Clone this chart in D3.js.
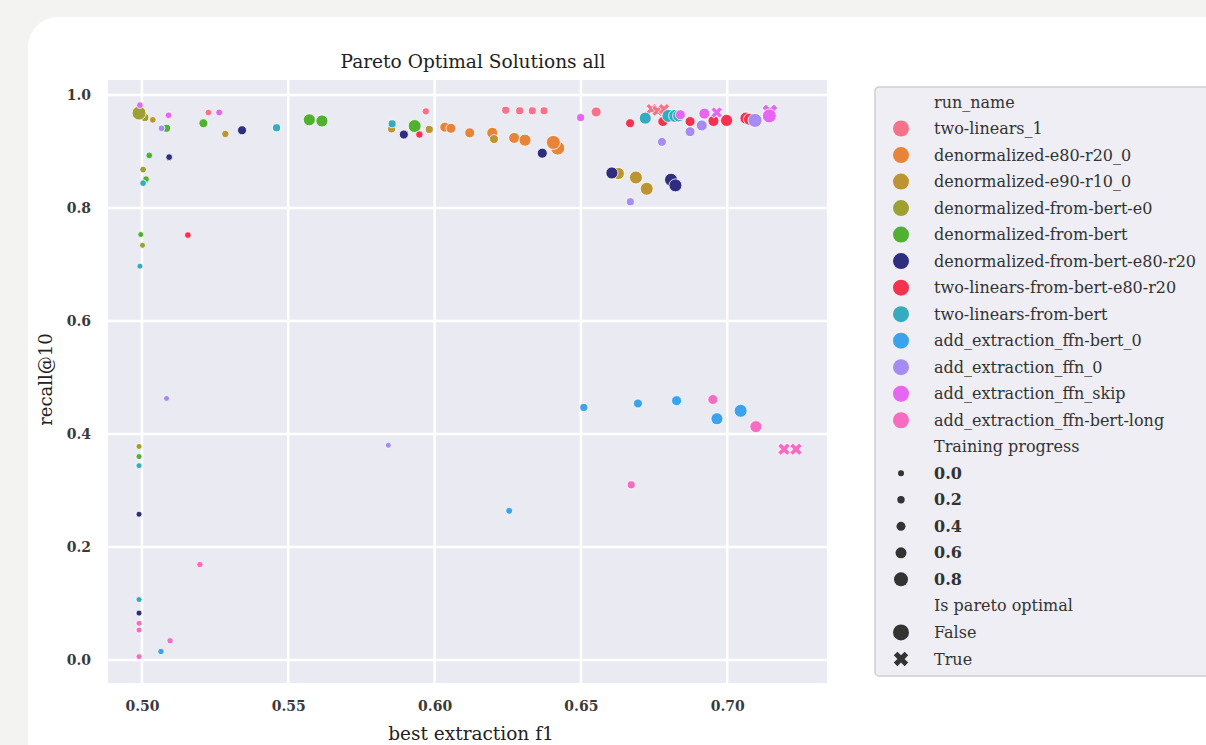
<!DOCTYPE html>
<html>
<head>
<meta charset="utf-8">
<script src="https://cdn.jsdelivr.net/npm/d3@7"></script>
<style>
  body { margin: 0; background: #f3f3f2; }
  svg { display: block; }
</style>
</head>
<body>
<div id="chart"></div>
<script>
// run names, in legend order
const runNames = [
  "two-linears_1",
  "denormalized-e80-r20_0",
  "denormalized-e90-r10_0",
  "denormalized-from-bert-e0",
  "denormalized-from-bert",
  "denormalized-from-bert-e80-r20",
  "two-linears-from-bert-e80-r20",
  "two-linears-from-bert",
  "add_extraction_ffn-bert_0",
  "add_extraction_ffn_0",
  "add_extraction_ffn_skip",
  "add_extraction_ffn-bert-long"
];

// each point: [best extraction f1, recall@10, training progress, is pareto optimal]
const twoLinears1 = [
  [0.5227, 0.969, 0.1, false], [0.5970, 0.971, 0.2, false], [0.6243, 0.973, 0.28, false],
  [0.6291, 0.972, 0.28, false], [0.6334, 0.972, 0.28, false], [0.6374, 0.972, 0.28, false],
  [0.6552, 0.970, 0.5, false], [0.6742, 0.975, 0.5, true], [0.6762, 0.972, 0.5, true],
  [0.6784, 0.975, 0.5, true]
];
const denormE80R20 = [
  [0.6035, 0.943, 0.5, false], [0.6056, 0.941, 0.5, false], [0.6120, 0.933, 0.5, false],
  [0.6197, 0.933, 0.6, false], [0.6272, 0.924, 0.6, false], [0.6309, 0.920, 0.67, false],
  [0.6421, 0.906, 0.8, false], [0.6406, 0.916, 0.8, false]
];
const denormE90R10 = [
  [0.5037, 0.956, 0.1, false], [0.5285, 0.931, 0.2, false], [0.5853, 0.940, 0.28, false],
  [0.5982, 0.939, 0.28, false], [0.6203, 0.922, 0.4, false], [0.6628, 0.861, 0.67, false],
  [0.6688, 0.854, 0.73, false], [0.6725, 0.834, 0.73, false]
];
const denormBertE0 = [
  [0.5010, 0.960, 0.28, false], [0.4990, 0.968, 0.8, false], [0.5004, 0.868, 0.1, false],
  [0.5002, 0.734, 0.0, false], [0.4990, 0.378, 0.0, false]
];
const denormBert = [
  [0.5084, 0.941, 0.28, false], [0.5210, 0.950, 0.4, false], [0.5572, 0.956, 0.67, false],
  [0.5615, 0.954, 0.67, false], [0.5932, 0.945, 0.73, false], [0.5025, 0.893, 0.1, false],
  [0.5014, 0.851, 0.1, false], [0.4996, 0.753, 0.0, false], [0.4990, 0.360, 0.0, false]
];
const denormBertE80R20 = [
  [0.5093, 0.890, 0.1, false], [0.5342, 0.9375, 0.4, false], [0.5895, 0.930, 0.4, false],
  [0.6368, 0.897, 0.5, false], [0.6606, 0.862, 0.67, false], [0.6808, 0.850, 0.73, false],
  [0.6823, 0.840, 0.73, false], [0.4990, 0.258, 0.0, false], [0.4990, 0.083, 0.0, false]
];
const twoLinBertE80R20 = [
  [0.5157, 0.752, 0.1, false], [0.5948, 0.930, 0.2, false], [0.6668, 0.950, 0.4, false],
  [0.6780, 0.953, 0.5, false], [0.6873, 0.953, 0.5, false], [0.6953, 0.954, 0.6, false],
  [0.6998, 0.955, 0.67, false], [0.7064, 0.959, 0.67, false], [0.7076, 0.957, 0.67, false]
];
const twoLinBert = [
  [0.5460, 0.942, 0.28, false], [0.5855, 0.949, 0.28, false], [0.5004, 0.844, 0.1, false],
  [0.4993, 0.697, 0.0, false], [0.4990, 0.344, 0.0, false], [0.4990, 0.107, 0.0, false],
  [0.6720, 0.959, 0.67, false], [0.6799, 0.963, 0.73, false], [0.6822, 0.963, 0.73, false],
  [0.6834, 0.963, 0.67, false]
];
const ffnBert0 = [
  [0.5065, 0.015, 0.05, false], [0.6255, 0.264, 0.14, false], [0.6510, 0.447, 0.28, false],
  [0.6695, 0.454, 0.4, false], [0.6827, 0.459, 0.5, false], [0.6965, 0.427, 0.67, false],
  [0.7046, 0.441, 0.73, false]
];
const ffn0 = [
  [0.5067, 0.941, 0.1, false], [0.5084, 0.463, 0.0, false], [0.5842, 0.380, 0.0, false],
  [0.6669, 0.811, 0.28, false], [0.6777, 0.917, 0.4, false], [0.6873, 0.935, 0.5, false],
  [0.6913, 0.946, 0.6, false], [0.7095, 0.955, 0.8, false]
];
const ffnSkip = [
  [0.4993, 0.982, 0.1, false], [0.5091, 0.964, 0.1, false], [0.5264, 0.969, 0.14, false],
  [0.6499, 0.960, 0.28, false], [0.6840, 0.965, 0.5, false], [0.6922, 0.967, 0.6, false],
  [0.6964, 0.969, 0.5, true], [0.7146, 0.970, 0.8, true], [0.7144, 0.963, 0.8, false]
];
const ffnBertLong = [
  [0.5198, 0.169, 0.05, false], [0.4990, 0.065, 0.0, false], [0.4990, 0.053, 0.0, false],
  [0.5096, 0.034, 0.05, false], [0.4990, 0.006, 0.0, false], [0.6672, 0.310, 0.28, false],
  [0.6951, 0.461, 0.5, false], [0.7098, 0.413, 0.67, false], [0.7194, 0.373, 0.6, true],
  [0.7235, 0.373, 0.6, true]
];
const runPoints = [twoLinears1, denormE80R20, denormE90R10, denormBertE0, denormBert,
  denormBertE80R20, twoLinBertE80R20, twoLinBert, ffnBert0, ffn0, ffnSkip, ffnBertLong];

const xTicks = [0.50, 0.55, 0.60, 0.65, 0.70];
const yTicks = [0.0, 0.2, 0.4, 0.6, 0.8, 1.0];
const progressTicks = [0.0, 0.2, 0.4, 0.6, 0.8];

const palette = ["#f77189", "#e8833a", "#bc9532", "#9ca132", "#50b131", "#2f2d7e",
  "#f2324f", "#36abbd", "#3ba3ec", "#a68cf2", "#e566f0", "#f66cc1"];

const data = [];
runPoints.forEach((pts, i) => pts.forEach(p =>
  data.push({ run: runNames[i], f1: p[0], recall: p[1], progress: p[2], pareto: p[3] })));

const W = 1206, H = 745;
const plot = { left: 108, right: 827, top: 80, bottom: 683 };
const serif = "'DejaVu Serif', serif";

const svg = d3.select("#chart").append("svg")
  .attr("width", W).attr("height", H);

// white card
svg.append("rect")
  .attr("x", 28).attr("y", 17).attr("width", 1230).attr("height", 780)
  .attr("rx", 30).attr("fill", "#fff");

const x = d3.scaleLinear().domain([0.4884, 0.7341]).range([plot.left, plot.right]);
const y = d3.scaleLinear().domain([-0.0407, 1.0265]).range([plot.bottom, plot.top]);
const color = d3.scaleOrdinal().domain(runNames).range(palette);
const radius = d3.scaleLinear().domain([0, 0.2, 0.4, 0.6, 0.8, 1]).range([3, 3.7, 4.5, 5.5, 7, 8.3]);

svg.append("rect")
  .attr("x", plot.left).attr("y", plot.top)
  .attr("width", plot.right - plot.left).attr("height", plot.bottom - plot.top)
  .attr("fill", "#eaeaf2");

// grid
svg.append("g").selectAll("line").data(xTicks).join("line")
  .attr("x1", d => x(d)).attr("x2", d => x(d))
  .attr("y1", plot.top).attr("y2", plot.bottom)
  .attr("stroke", "#fff").attr("stroke-width", 2.5);
svg.append("g").selectAll("line").data(yTicks).join("line")
  .attr("y1", d => y(d)).attr("y2", d => y(d))
  .attr("x1", plot.left).attr("x2", plot.right)
  .attr("stroke", "#fff").attr("stroke-width", 2.5);

// axes, labels only
const xAxis = svg.append("g")
  .attr("transform", `translate(0,${plot.bottom})`)
  .call(d3.axisBottom(x).tickValues(xTicks).tickFormat(d3.format(".2f")).tickSize(0).tickPadding(18));
const yAxis = svg.append("g")
  .attr("transform", `translate(${plot.left},0)`)
  .call(d3.axisLeft(y).tickValues(yTicks).tickFormat(d3.format(".1f")).tickSize(0).tickPadding(17));
[xAxis, yAxis].forEach(a => {
  a.select(".domain").remove();
  a.selectAll("text")
    .attr("font-family", serif).attr("font-size", 14)
    .attr("font-weight", "bold").attr("fill", "#3a3a3a");
});

svg.append("text")
  .attr("x", 473).attr("y", 68)
  .attr("text-anchor", "middle")
  .attr("font-family", serif).attr("font-size", 18.5).attr("fill", "#222")
  .attr("textLength", 265).attr("lengthAdjust", "spacingAndGlyphs")
  .text("Pareto Optimal Solutions all");

svg.append("text")
  .attr("x", 471).attr("y", 740)
  .attr("text-anchor", "middle")
  .attr("font-family", serif).attr("font-size", 18.5).attr("fill", "#222")
  .text("best extraction f1");

svg.append("text")
  .attr("transform", `translate(52,${(plot.top + plot.bottom) / 2 - 2}) rotate(-90)`)
  .attr("text-anchor", "middle")
  .attr("font-family", serif).attr("font-size", 18).attr("fill", "#222")
  .text("recall@10");

// points
const crossPath = size => d3.symbol().type(d3.symbolCross).size(size)();
const marks = svg.append("g");
data.forEach(d => {
  const r = radius(d.progress);
  if (d.pareto) {
    marks.append("path")
      .attr("d", crossPath(r * r * 3.2))
      .attr("transform", `translate(${x(d.f1)},${y(d.recall)}) rotate(45)`)
      .attr("fill", color(d.run)).attr("stroke", "#fff").attr("stroke-width", 0.8);
  } else {
    marks.append("circle")
      .attr("cx", x(d.f1)).attr("cy", y(d.recall)).attr("r", r)
      .attr("fill", color(d.run)).attr("stroke", "#fff").attr("stroke-width", 0.8);
  }
});

// legend
const lg = svg.append("g");
lg.append("rect")
  .attr("x", 875).attr("y", 87).attr("width", 360).attr("height", 589)
  .attr("rx", 4).attr("fill", "#eeeef4").attr("stroke", "#cfcfcf").attr("stroke-width", 1.5);

const rowY = i => 102 + 26.52 * i;
const legendRows = [];
legendRows.push({ label: "run_name" });
runNames.forEach(n => legendRows.push({ label: n, kind: "run", run: n }));
legendRows.push({ label: "Training progress" });
progressTicks.forEach(t => legendRows.push({ label: t.toFixed(1), kind: "size", v: t }));
legendRows.push({ label: "Is pareto optimal" });
legendRows.push({ label: "False", kind: "circle" });
legendRows.push({ label: "True", kind: "cross" });

legendRows.forEach((row, i) => {
  const cy = rowY(i);
  if (row.kind === "run") {
    lg.append("circle").attr("cx", 901).attr("cy", cy).attr("r", 8).attr("fill", color(row.run));
  } else if (row.kind === "size") {
    lg.append("circle").attr("cx", 901).attr("cy", cy).attr("r", radius(row.v)).attr("fill", "#333");
  } else if (row.kind === "circle") {
    lg.append("circle").attr("cx", 901).attr("cy", cy).attr("r", 8).attr("fill", "#333");
  } else if (row.kind === "cross") {
    lg.append("path").attr("d", crossPath(130))
      .attr("transform", `translate(901,${cy}) rotate(45)`).attr("fill", "#333");
  }
  lg.append("text")
    .attr("x", 934).attr("y", cy).attr("dy", "0.35em")
    .attr("font-family", serif).attr("font-size", 16)
    .attr("font-weight", row.kind === "size" ? "bold" : "normal")
    .attr("fill", "#333")
    .text(row.label);
});
</script>
</body>
</html>
